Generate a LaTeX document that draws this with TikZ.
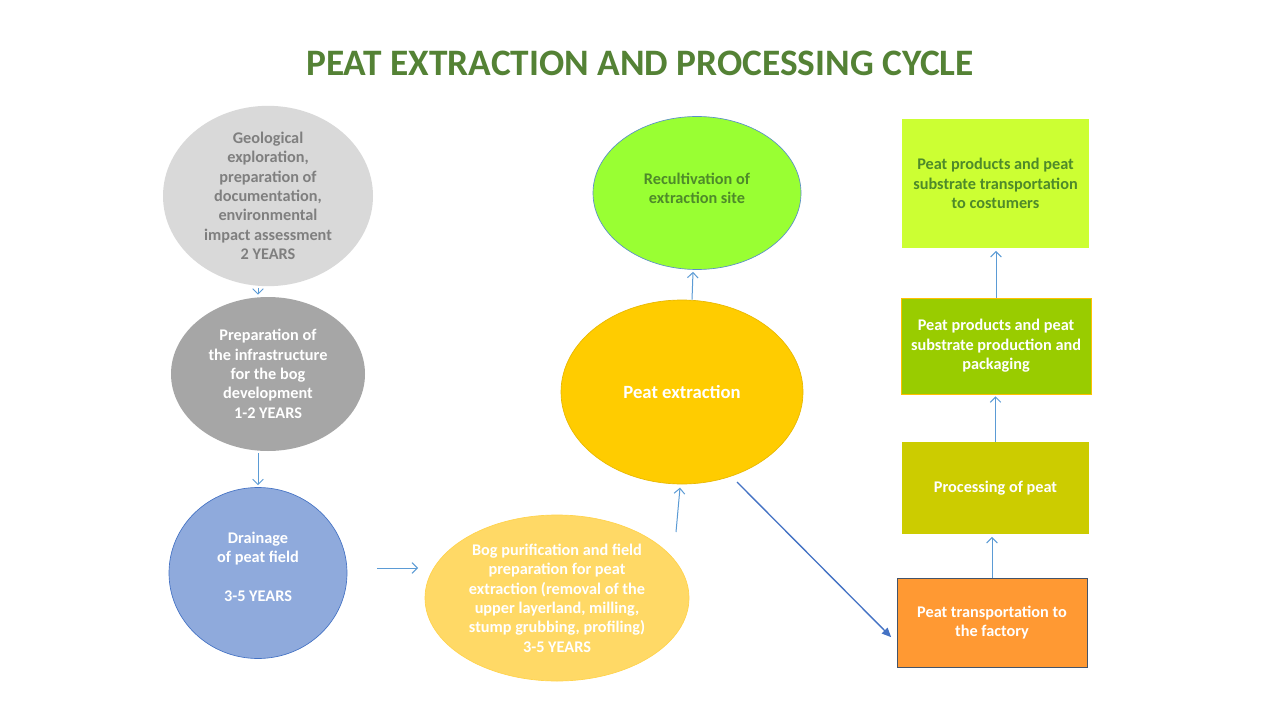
\documentclass[tikz,border=0pt]{standalone}
\usepackage{fontspec}
\setmainfont{Carlito}
\usetikzlibrary{shapes.geometric,arrows.meta}
\definecolor{titlegreen}{HTML}{548235}
\definecolor{txtgray}{HTML}{7F7F7F}
\definecolor{lgray}{HTML}{D9D9D9}
\definecolor{dgray}{HTML}{A6A6A6}
\definecolor{lblue}{HTML}{8FAADC}
\definecolor{bblue}{HTML}{4472C4}
\definecolor{ablue}{HTML}{5B9BD5}
\definecolor{bogyel}{HTML}{FFD966}
\definecolor{bogbord}{HTML}{FFC000}
\definecolor{peyel}{HTML}{FFCC00}
\definecolor{pebord}{HTML}{E8B800}
\definecolor{recgreen}{HTML}{99FF33}
\definecolor{recbord}{HTML}{5B8FC8}
\definecolor{rectxt}{HTML}{4E8A2A}
\definecolor{topgreen}{HTML}{CCFF33}
\definecolor{prodgreen}{HTML}{99CC00}
\definecolor{procolive}{HTML}{CCCC00}
\definecolor{orng}{HTML}{FF9933}
\definecolor{orbord}{HTML}{44546A}
\begin{document}
\begin{tikzpicture}[x=0.75pt,y=-0.75pt,
  every node/.style={font=\fontsize{12.2pt}{14.5pt}\selectfont\bfseries, align=center},
  oval/.style={ellipse, inner sep=0pt},
  box/.style={rectangle, inner sep=0pt},
  arr/.style={draw=ablue, line width=0.75pt, -{Straight Barb[length=4pt,width=8pt]}},
  darr/.style={draw=bblue, line width=1pt, -{Triangle[length=7pt,width=6pt]}}]
\useasboundingbox[fill=white] (0,0) rectangle (1280,720);

\node (title) at (640,63) {\fontsize{28pt}{32pt}\selectfont\color{titlegreen}PEAT EXTRACTION AND PROCESSING CYCLE};

\node[oval, fill=lgray, minimum width=157.5pt, minimum height=112.5pt, text=txtgray] (geo) at (268,196)
  {Geological\\exploration,\\preparation of\\documentation,\\environmental\\impact assessment\\2 YEARS};

\node[oval, fill=dgray, minimum width=145.5pt, minimum height=115.5pt, text=white] (infra) at (268,374)
  {Preparation of\\the infrastructure\\for the bog\\development\\1-2 YEARS};

\node[oval, fill=lblue, draw=bblue, line width=0.5pt, minimum width=133.5pt, minimum height=128.25pt, text=white] (drain) at (258,573) {};
\node[text=white, anchor=north] (draintxt) at (258,527) {Drainage\\of peat field\\[14.5pt]3-5 YEARS};

\node[oval, fill=bogyel, draw=bogbord!70, line width=0.5pt, minimum width=198pt, minimum height=124.5pt, text=white] (bog) at (557,598)
  {Bog purification and field\\preparation for peat\\extraction (removal of the\\upper layerland, milling,\\stump grubbing, profiling)\\3-5 YEARS};

\node[oval, fill=peyel, draw=pebord, line width=0.5pt, minimum width=181.5pt, minimum height=138pt, text=white] (pe) at (682,392)
  {\fontsize{14pt}{16pt}\selectfont Peat extraction};

\node[oval, fill=recgreen, draw=recbord, line width=0.5pt, minimum width=156pt, minimum height=114.75pt] (rec) at (697,193) {};
\node[text=rectxt] (rectxt) at (697,188.5) {Recultivation of\\extraction site};

\node[box, fill=topgreen, minimum width=140.25pt, minimum height=96.75pt, text=rectxt] (cust) at (995.5,183.5)
  {Peat products and peat\\substrate transportation\\to costumers};

\node[box, fill=prodgreen, draw=bogbord, line width=0.5pt, minimum width=142.5pt, minimum height=72pt, text=white] (prod) at (996,346)
  {Peat products and peat\\substrate production and\\packaging};

\node[box, fill=procolive, minimum width=140.25pt, minimum height=69pt, text=white] (proc) at (995.5,488)
  {Processing of peat};

\node[box, fill=orng, draw=orbord, line width=0.75pt, minimum width=142.5pt, minimum height=66.75pt, text=white] (trans) at (992,622.5)
  {Peat transportation to\\the factory};

% connectors
\draw[arr] ([yshift=-1pt]geo.south -| 258,0) -- ([yshift=1.5pt]infra.north -| 258,0);
\draw[arr] ([yshift=-1.5pt]infra.south -| 258,0) -- ([yshift=1.5pt]drain.north);
\coordinate (drainout) at (377,568);
\coordinate (bogin) at (418,568);
\draw[arr] (drainout) -- (bogin);
\coordinate (bogout) at (676,532);
\draw[arr] (bogout) -- ([xshift=-1.5pt,yshift=-2.5pt]pe.south);
\draw[arr] ([xshift=7.5pt]pe.north) -- ([xshift=-3pt,yshift=-1.5pt]rec.south);
\coordinate (peout) at (737,482);
\draw[darr] (peout) -- ([xshift=-4pt,yshift=-11pt]trans.west);
\draw[arr] (trans.north) -- ([yshift=-2pt]proc.south -| trans.north);
\draw[arr] (proc.north) -- ([yshift=-1.5pt]prod.south -| proc.north);
\draw[arr] (prod.north) -- ([yshift=-2pt]cust.south -| prod.north);
\end{tikzpicture}
\end{document}
